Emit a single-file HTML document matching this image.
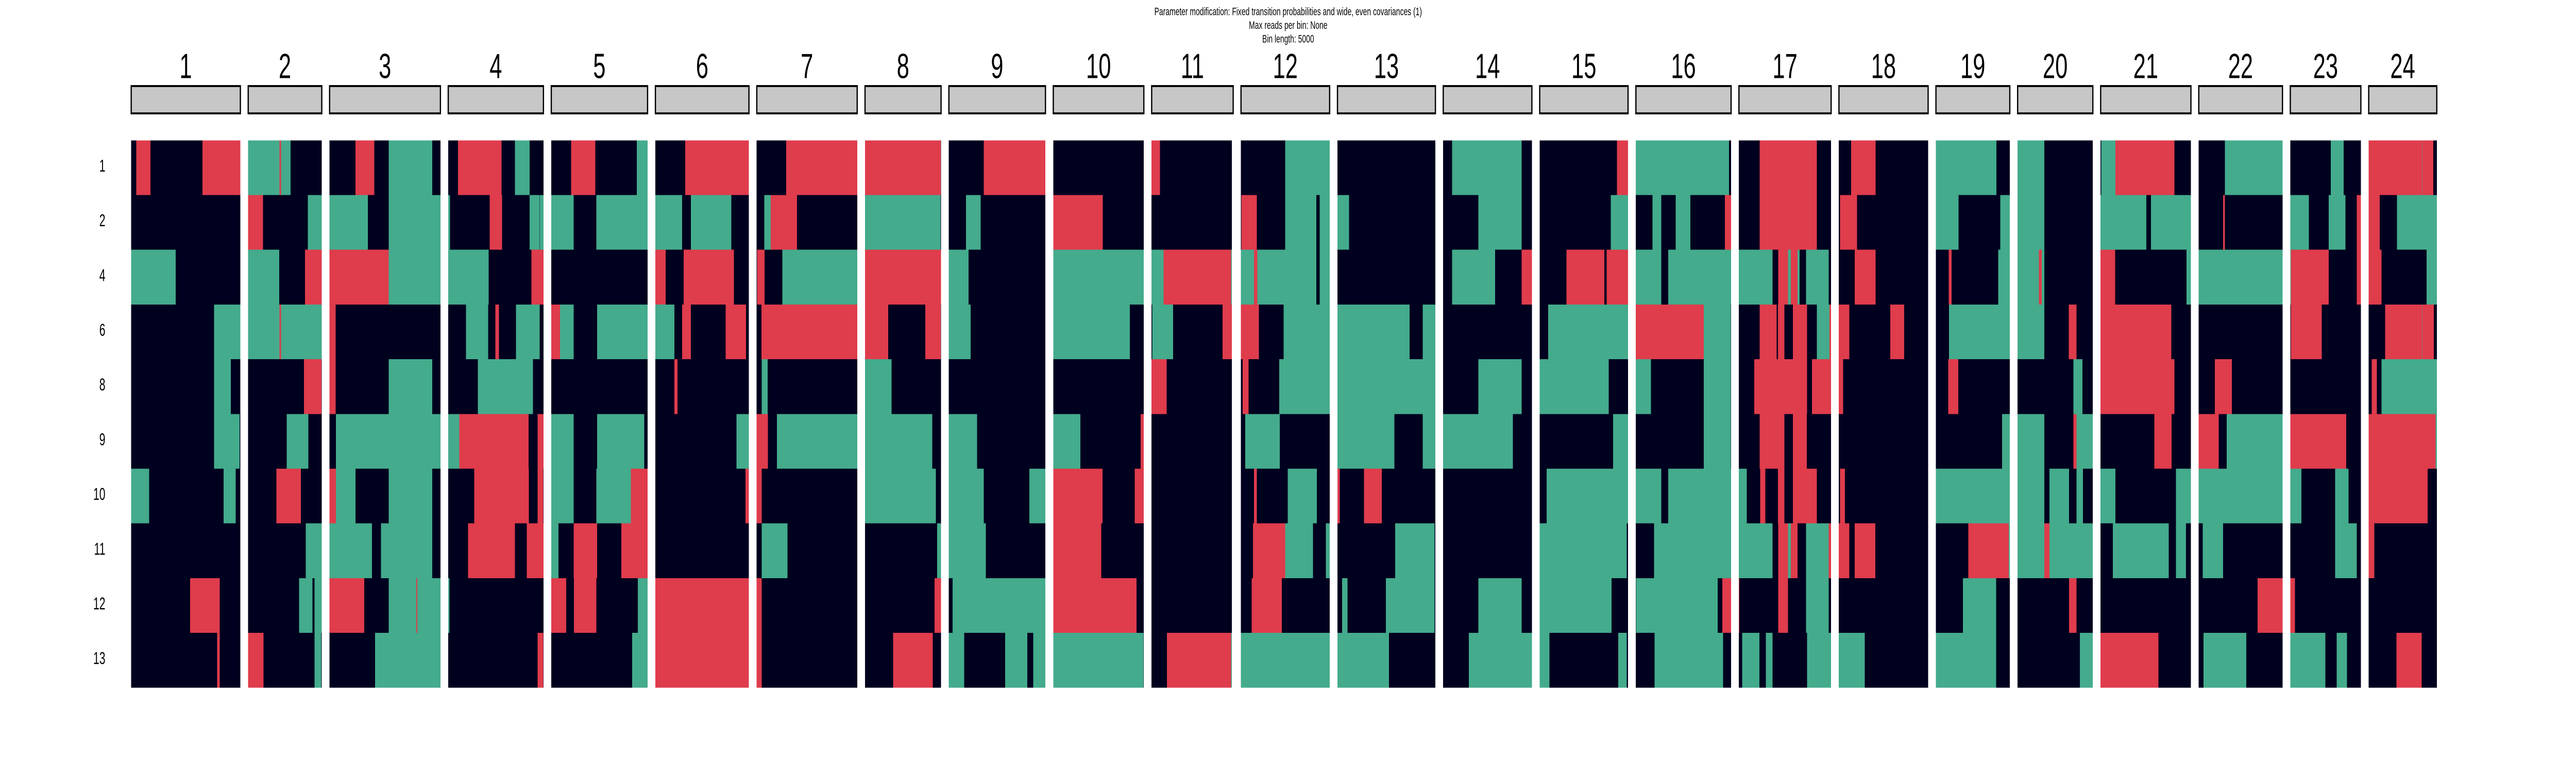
<!DOCTYPE html>
<html lang="en">
<head>
<meta charset="utf-8">
<title>Parameter modification heatmap</title>
<style>
html,body{margin:0;padding:0;background:#fff;width:100%;height:100%;overflow:hidden;}
svg{display:block;width:100vw;height:100vh;font-family:"Liberation Sans",Arial,sans-serif;}
</style>
</head>
<body>
<svg id="chart" xmlns="http://www.w3.org/2000/svg" viewBox="0 0 7800 1500" preserveAspectRatio="none">
  <rect x="0" y="0" width="7800" height="1500" fill="#ffffff"/>
  <g text-anchor="middle" font-size="21.7" fill="#000000">
    <text x="3900.5" y="29.5">Parameter modification: Fixed transition probabilities and wide, even covariances (1)</text>
    <text x="3900.5" y="56">Max reads per bin: None</text>
    <text x="3900.5" y="82.5">Bin length: 5000</text>
  </g>
  <g id="panels"></g>
  <g id="rowLabels"></g>
</svg>
<script>
// Categories
const sampleLabels = ['1','2','4','6','8','9','10','11','12','13'];
const chromosomeLabels = ['1','2','3','4','5','6','7','8','9','10','11','12','13','14','15','16','17','18','19','20','21','22','23','24'];
// Chromosome lengths, and how far the called data reaches on each
const chromLengths = [399,269,405,348,352,342,367,278,353,331,298,324,358,324,323,348,337,326,270,275,330,306,258,249];
const dataExtents = [399,269,405,348,352,342,367,278,353,331,293,324,358,324,323,348,337,326,270,275,330,306,258,249];

// Segments per sample: [start, end, state]; state 1 = gain-like (green), 2 = loss-like (red); unlisted = neutral
const chr1 = [
 [[19,71,2],[261,399,2]],
 [],
 [[0,163,1]],
 [[303,399,1]],
 [[303,364,1]],
 [[303,396,1]],
 [[0,66,1],[338,382,1]],
 [],
 [[215,324,2]],
 [[314,324,2]]
];
const chr2 = [
 [[0,115,1],[115,120,2],[120,155,1]],
 [[0,54,2],[218,269,1]],
 [[0,114,1],[208,269,2]],
 [[0,115,1],[115,120,2],[120,269,1]],
 [[204,268,2]],
 [[141,220,1]],
 [[103,193,2]],
 [[211,269,1]],
 [[186,235,1],[243,269,1]],
 [[0,56,2],[243,267,1]]
];
const chr3 = [
 [[95,164,2],[216,375,1]],
 [[0,140,1],[216,405,1]],
 [[0,216,2],[216,405,1]],
 [[0,22,2]],
 [[0,22,2],[216,375,1]],
 [[23,405,1]],
 [[0,23,2],[23,95,1],[216,375,1]],
 [[0,155,1],[188,375,1]],
 [[0,127,2],[216,317,1],[317,321,2],[321,405,1]],
 [[166,405,1]]
];
const chr4 = [
 [[36,195,2],[244,298,1]],
 [[0,7,1],[152,197,2],[298,333,1],[334,348,1]],
 [[0,148,1],[304,348,2]],
 [[65,146,1],[172,186,2],[248,334,1]],
 [[108,310,1]],
 [[0,41,1],[41,294,2],[327,348,2]],
 [[95,295,2],[327,347,2]],
 [[73,244,2],[287,348,2]],
 [[0,5,1]],
 [[327,347,2]]
];
const chr5 = [
 [[73,161,2],[313,352,1]],
 [[0,82,1],[165,352,1]],
 [],
 [[0,32,2],[32,82,1],[168,352,1]],
 [],
 [[0,82,1],[168,340,1]],
 [[0,82,1],[165,291,1],[291,352,2]],
 [[0,27,1],[82,168,2],[256,352,2]],
 [[0,55,2],[83,165,2],[316,352,1]],
 [[296,352,1]]
];
const chr6 = [
 [[109,342,2]],
 [[0,98,1],[130,278,1]],
 [[0,38,2],[104,287,2]],
 [[0,70,1],[98,130,2],[257,331,2]],
 [[70,81,2]],
 [[296,342,1]],
 [[329,342,2]],
 [],
 [[0,342,2]],
 [[0,342,2]]
];
const chr7 = [
 [[108,367,2]],
 [[28,51,1],[51,147,2]],
 [[1,29,2],[94,367,1]],
 [[17,367,2]],
 [[18,40,1]],
 [[0,41,2],[74,367,1]],
 [[0,18,2]],
 [[18,112,1]],
 [[0,18,2]],
 [[0,18,2]]
];
const chr8 = [
 [[0,277,2]],
 [[0,276,1]],
 [[0,278,2]],
 [[0,85,2],[220,277,2]],
 [[0,97,1]],
 [[0,246,1]],
 [[0,259,1]],
 [[264,278,1]],
 [[254,278,2]],
 [[103,248,2]]
];
const chr9 = [
 [[128,353,2]],
 [[63,116,1]],
 [[0,72,1]],
 [[0,80,1]],
 [],
 [[0,103,1]],
 [[0,128,1],[294,353,1]],
 [[0,135,1]],
 [[14,353,1]],
 [[0,56,1],[206,287,1],[308,353,1]]
];
const chr10 = [
 [],
 [[0,181,2]],
 [[0,331,1]],
 [[0,280,1]],
 [],
 [[0,99,1],[319,331,2]],
 [[0,180,2],[298,331,2]],
 [[0,175,2]],
 [[0,304,2]],
 [[0,330,1]]
];
const chr11 = [
 [[0,31,2]],
 [],
 [[0,44,1],[44,290,2],[290,293,1]],
 [[2,79,1],[259,293,2]],
 [[0,55,2]],
 [],
 [],
 [],
 [],
 [[56,290,2],[290,293,1]]
];
const chr12 = [
 [[162,324,1]],
 [[2,58,2],[162,275,1],[288,324,1]],
 [[0,48,1],[48,60,2],[60,275,1],[288,324,1]],
 [[0,66,2],[156,324,1]],
 [[6,28,2],[140,324,1]],
 [[16,142,1]],
 [[48,58,2],[171,277,1]],
 [[44,162,2],[162,263,1],[310,324,1]],
 [[39,149,2]],
 [[0,324,1]]
];
const chr13 = [
 [],
 [[0,43,1]],
 [],
 [[0,264,1],[312,358,1]],
 [[0,358,1]],
 [[0,208,1],[312,358,1]],
 [[0,9,2],[97,162,2]],
 [[211,355,1]],
 [[17,37,1],[177,355,1]],
 [[0,188,1]]
];
const chr14 = [
 [[33,287,1]],
 [[129,287,1]],
 [[33,190,1],[287,324,2]],
 [],
 [[129,287,1]],
 [[0,255,1]],
 [],
 [],
 [[129,287,1]],
 [[94,324,1]]
];
const chr15 = [
 [[282,323,2]],
 [[260,323,1]],
 [[98,236,2],[245,323,2]],
 [[31,323,1]],
 [[0,252,1]],
 [[268,323,1]],
 [[26,323,1]],
 [[0,318,1]],
 [[0,263,1]],
 [[0,36,1],[287,318,1]]
];
const chr16 = [
 [[0,340,1]],
 [[61,93,1],[146,199,1],[325,348,2]],
 [[0,93,1],[118,348,1]],
 [[0,248,2],[248,347,1]],
 [[0,55,1],[248,347,1]],
 [[248,347,1]],
 [[0,93,1],[118,348,1]],
 [[67,348,1]],
 [[1,299,1],[316,348,2]],
 [[69,319,1]]
];
const chr17 = [
 [[76,285,2]],
 [[76,285,2]],
 [[0,123,1],[144,180,2],[180,190,1],[190,214,2],[214,222,1],[245,328,1]],
 [[76,138,2],[143,166,2],[197,249,2],[285,331,1],[331,337,2]],
 [[56,249,2],[267,337,2]],
 [[76,166,2],[197,248,2]],
 [[0,29,1],[78,97,2],[143,166,2],[197,285,2]],
 [[0,123,1],[144,180,2],[180,190,1],[190,214,2],[245,328,1],[328,337,2]],
 [[0,2,2],[144,180,2],[245,328,1]],
 [[12,75,1],[99,123,1],[249,337,1]]
];
const chr18 = [
 [[45,134,2]],
 [[4,66,2]],
 [[58,134,2]],
 [[0,38,2],[188,239,2]],
 [[0,16,2]],
 [],
 [[4,22,2]],
 [[0,38,2],[58,133,2]],
 [],
 [[0,95,1]]
];
const chr19 = [
 [[0,221,1]],
 [[0,83,1],[235,270,1]],
 [[47,57,2],[228,270,1]],
 [[48,270,1]],
 [[45,82,2]],
 [[242,270,1]],
 [[0,270,1]],
 [[119,266,2],[266,270,1]],
 [[99,220,1]],
 [[0,220,1]]
];
const chr20 = [
 [[0,98,1]],
 [[0,98,1]],
 [[0,78,1],[78,88,2],[88,98,1]],
 [[0,98,1],[187,215,2]],
 [[204,237,1]],
 [[0,98,1],[204,215,2],[215,275,1]],
 [[0,98,1],[117,188,1],[215,239,1]],
 [[0,98,1],[98,117,2],[117,275,1]],
 [[188,215,2]],
 [[228,275,1]]
];
const chr21 = [
 [[2,54,1],[54,270,2]],
 [[0,167,1],[184,330,1]],
 [[0,53,2],[314,330,1]],
 [[0,258,2]],
 [[0,270,2]],
 [[196,259,2]],
 [[0,54,1],[275,330,1]],
 [[45,249,1],[275,312,1]],
 [],
 [[0,211,2]]
];
const chr22 = [
 [[96,306,1]],
 [[89,96,2]],
 [[0,306,1]],
 [],
 [[59,121,2]],
 [[0,73,2],[102,306,1]],
 [[0,306,1]],
 [[15,89,1]],
 [[215,306,2]],
 [[18,174,1]]
];
const chr23 = [
 [[148,195,1]],
 [[0,68,1],[141,202,1],[243,258,2]],
 [[0,2,1],[2,141,2],[243,258,2]],
 [[2,115,2]],
 [],
 [[0,205,2]],
 [[0,41,1],[164,213,1]],
 [[164,243,1]],
 [[0,17,2]],
 [[0,128,1],[170,207,1]]
];
const chr24 = [
 [[0,195,2],[195,196,1],[196,236,2]],
 [[0,41,2],[104,249,1]],
 [[0,47,2],[212,249,1]],
 [[60,195,2],[195,196,1],[196,238,2]],
 [[11,30,2],[47,249,1]],
 [[0,245,2],[245,249,1]],
 [[0,216,2]],
 [[0,21,2]],
 [],
 [[102,194,2]]
];
const chromosomeSegments = [chr1,chr2,chr3,chr4,chr5,chr6,chr7,chr8,chr9,chr10,chr11,chr12,chr13,chr14,chr15,chr16,chr17,chr18,chr19,chr20,chr21,chr22,chr23,chr24];

// Layout
const SVGNS = 'http://www.w3.org/2000/svg';
const plotLeft = 397, panelGap = 23.45, pxPerUnit = 0.8291;
const plotTop = 272.3, rowHeight = 106.2;
const stripTop = 167, stripBottom = 220;
const stateFill = {1:'#44AB8C', 2:'#DF3C4C'};
const neutralFill = '#00001F';

function panelLeft(i){
  let x = plotLeft;
  for(let k=0;k<i;k++){ x += chromLengths[k]*pxPerUnit + panelGap; }
  return x;
}
function xScale(i,pos){ return panelLeft(i) + pos*pxPerUnit; }
function yScale(row){ return plotTop + row*rowHeight; }

const panelsGroup = document.getElementById('panels');
const labelsGroup = document.getElementById('rowLabels');

function svgEl(tag, parent){
  const el = document.createElementNS(SVGNS, tag);
  parent.appendChild(el);
  return el;
}

chromosomeLabels.forEach(function(label,i){
  const panel = svgEl('g', panelsGroup);
  
  

  const x0 = xScale(i,0), x1 = xScale(i,chromLengths[i]), xEnd = xScale(i,dataExtents[i]);

  const strip = svgEl('rect', panel);
  
  
  strip.setAttribute('x', x0 + 0.3);
  strip.setAttribute('y', stripTop);
  strip.setAttribute('width', x1 - x0 - 0.3);
  strip.setAttribute('height', stripBottom - stripTop);
  strip.setAttribute('fill', '#C7C7C7');
  strip.setAttribute('stroke', '#000000');
  strip.setAttribute('stroke-width', '3.8');

  const stripText = svgEl('text', panel);
  
  
  stripText.setAttribute('x', (x0 + x1)/2);
  stripText.setAttribute('y', 151.5);
  stripText.setAttribute('text-anchor', 'middle');
  stripText.setAttribute('font-size', '68');
  stripText.setAttribute('fill', '#000000');
  stripText.textContent = label;

  const bg = svgEl('rect', panel);
  
  
  bg.setAttribute('x', x0);
  bg.setAttribute('y', yScale(0));
  bg.setAttribute('width', xEnd - x0);
  bg.setAttribute('height', yScale(sampleLabels.length) - yScale(0));
  bg.setAttribute('fill', neutralFill);
  bg.setAttribute('shape-rendering', 'crispEdges');

  chromosomeSegments[i].forEach(function(rowSegs,r){
    rowSegs.forEach(function(seg){
      const rect = svgEl('rect', panel);
      
      
      rect.setAttribute('x', xScale(i,seg[0]));
      rect.setAttribute('y', yScale(r));
      rect.setAttribute('width', xScale(i,seg[1]) - xScale(i,seg[0]));
      rect.setAttribute('height', yScale(r+1) - yScale(r));
      rect.setAttribute('fill', stateFill[seg[2]]);
      rect.setAttribute('shape-rendering', 'crispEdges');
    });
  });
});

sampleLabels.forEach(function(label,r){
  const t = svgEl('text', labelsGroup);
  
  
  t.setAttribute('x', 319);
  t.setAttribute('y', yScale(r) + rowHeight/2 + 7.5);
  t.setAttribute('text-anchor', 'end');
  t.setAttribute('font-size', '33');
  t.setAttribute('fill', '#000000');
  t.textContent = label;
});
</script>
</body>
</html>
